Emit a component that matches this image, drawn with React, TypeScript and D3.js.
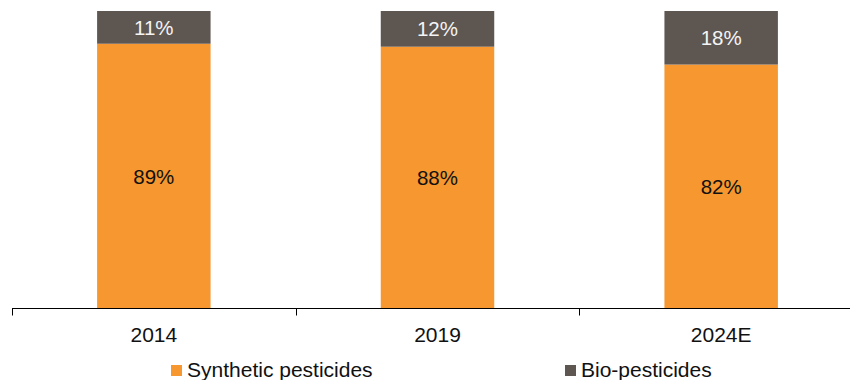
import React from "react";
import * as d3 from "d3";

const categories = ["2014", "2019", "2024E"];
const synthetic = [89, 88, 82];
const bio = [11, 12, 18];
const seriesNames = ["Synthetic pesticides", "Bio-pesticides"];
const colors = ["#F7972F", "#5E5651"];

const W = 850;
const H = 380;
const FONT = "'Liberation Sans', Arial, sans-serif";

export default function App() {
  const x = d3
    .scaleBand<string>()
    .domain(categories)
    .range([12, 863])
    .paddingInner(0.6)
    .paddingOuter(0.3);
  const y = d3.scaleLinear().domain([0, 100]).range([308.5, 11]);
  const step = x.step();
  const left = 12;
  const tickXs = d3.range(categories.length + 1).map((i) => left + i * step);

  const stacks = categories.map((c, i) => {
    const s0 = synthetic[i];
    const s1 = bio[i];
    return [
      { key: 0, y0: 0, y1: s0, v: s0 },
      { key: 1, y0: s0, y1: s0 + s1, v: s1 },
    ];
  });

  return (
    <div style={{ position: "absolute", left: 0, top: 0 }}>
      <svg width={W} height={H} style={{ display: "block", fontFamily: FONT }}>
        <rect width={W} height={H} fill="#fff" />
        {categories.map((c, i) =>
          stacks[i].map((seg) => {
            const yTop = y(seg.y1);
            const yBot = y(seg.y0);
            return (
              <g key={c + seg.key}>
                <rect
                  x={x(c)}
                  y={yTop}
                  width={x.bandwidth()}
                  height={yBot - yTop}
                  fill={colors[seg.key]}
                />
                <text
                  x={(x(c) as number) + x.bandwidth() / 2}
                  y={(yTop + yBot) / 2 + 7.5}
                  textAnchor="middle"
                  fontSize={20.5}
                  fill={seg.key === 1 ? "#f4f4f4" : "#111"}
                >
                  {seg.v}%
                </text>
              </g>
            );
          })
        )}
        {/* category axis */}
        <line x1={left} x2={W} y1={y(0)} y2={y(0)} stroke="#000" strokeWidth={1} />
        {tickXs.map((tx, i) => (
          <line
            key={i}
            x1={Math.round(tx) + 0.5}
            x2={Math.round(tx) + 0.5}
            y1={y(0)}
            y2={y(0) + 7}
            stroke="#000"
            strokeWidth={1}
          />
        ))}
        {categories.map((c) => (
          <text
            key={c}
            x={(x(c) as number) + x.bandwidth() / 2}
            y={341.5}
            textAnchor="middle"
            fontSize={21}
            fill="#111"
          >
            {c}
          </text>
        ))}
        {/* legend */}
        {seriesNames.map((name, i) => {
          const lx = i === 0 ? 171 : 565;
          return (
            <g key={name}>
              <rect x={lx} y={365} width={11} height={11} fill={colors[i]} />
              <text x={lx + 16} y={376.5} fontSize={21} fill="#111">
                {name}
              </text>
            </g>
          );
        })}
      </svg>
    </div>
  );
}
